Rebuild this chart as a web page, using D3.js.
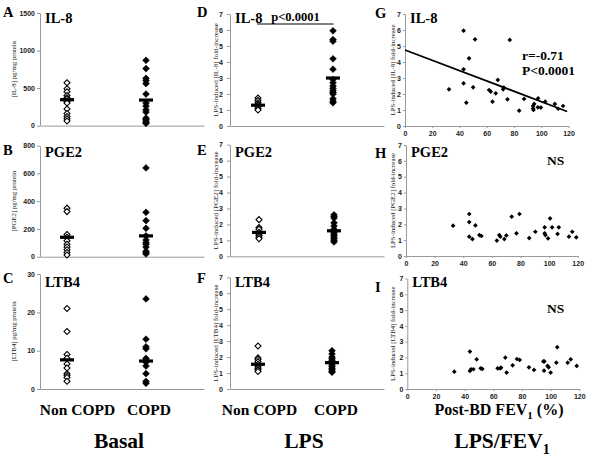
<!DOCTYPE html>
<html><head><meta charset="utf-8">
<script src="https://cdn.jsdelivr.net/npm/d3@7"></script>
<style>body{margin:0;background:#fff}svg{display:block}</style>
</head><body>
<svg id="c" width="600" height="459"></svg>
<script>
// ---------- DATA ----------
const groups = ["Non COPD", "COPD"];

// Basal (pg/mg protein)
const basalIL8NonCOPD = [570, 490, 450, 400, 370, 350, 320, 300, 220, 160, 120, 90, 60];
const basalIL8COPD = [870, 760, 630, 600, 560, 420, 300, 260, 210, 180, 100, 80, 60, 40, 30];
const basalIL8Medians = [345, 340];
const basalPGE2NonCOPD = [350, 325, 160, 140, 115, 90, 70, 50, 30, 12];
const basalPGE2COPD = [640, 320, 260, 205, 150, 120, 100, 90, 70, 40, 30, 20];
const basalPGE2Medians = [140, 150];
const basalLTB4NonCOPD = [21, 15, 9, 8, 6.5, 5.5, 4, 3.5, 3, 2];
const basalLTB4COPD = [23.5, 13, 11, 10.5, 8, 7.5, 7, 6, 4, 2, 1.5];
const basalLTB4Medians = [7.6, 7.3];

// LPS-induced fold increase
const lpsIL8NonCOPD = [1.75, 1.6, 1.45, 1.35, 1.3, 1.2, 1.1, 1.0];
const lpsIL8COPD = [5.95, 5.4, 5.3, 4.2, 3.55, 2.9, 2.7, 2.5, 2.35, 2.2, 2.1, 2.0, 1.7, 1.55, 1.45];
const lpsIL8Medians = [1.3, 3.0];
const lpsPGE2NonCOPD = [2.3, 1.8, 1.7, 1.5, 1.4, 1.3, 1.2, 1.1];
const lpsPGE2COPD = [2.6, 2.5, 2.4, 2.1, 1.9, 1.7, 1.6, 1.5, 1.4, 1.3, 1.2, 1.1, 1.0, 0.9];
const lpsPGE2Medians = [1.5, 1.6];
const lpsLTB4NonCOPD = [2.7, 1.95, 1.85, 1.7, 1.55, 1.4, 1.3, 1.2, 1.1];
const lpsLTB4COPD = [2.4, 2.2, 2.0, 1.9, 1.8, 1.6, 1.5, 1.4, 1.3, 1.2, 1.1, 1.05];
const lpsLTB4Medians = [1.55, 1.65];

// LPS fold increase vs post-BD FEV1 (%)
const fev1IL8 = [32.3, 43, 43, 43, 45, 47, 50, 51.4, 61.7, 62.9, 64.2, 66.6, 68.1, 72, 72.5, 75.2, 76.9, 83.8, 87.4, 94, 94, 94.3, 94.8, 97.7, 97.5, 99.7, 102.9, 110, 112.4, 116];
const foldIL8 = [2.29, 5.96, 3.54, 2.67, 1.46, 4.23, 2.42, 5.42, 2.25, 2.15, 1.52, 2.04, 2.88, 2.29, 2.4, 1.67, 5.38, 0.96, 1.69, 1.25, 1.1, 1.0, 1.38, 1.73, 1.17, 1.15, 1.52, 1.38, 1.08, 1.25];
const fitIL8 = {intercept: 4.75, slope: -0.0323};
const fev1PGE2 = [32.9, 44.2, 44.2, 44.2, 46.4, 48.5, 51.3, 52.7, 63.5, 65.2, 65.9, 68.7, 70.1, 73.9, 77.2, 79.3, 86.1, 90.4, 96.9, 96.9, 97.4, 99.3, 100.7, 102.1, 105.9, 106.8, 113.9, 116.2, 119];
const foldPGE2 = [1.91, 2.65, 2.14, 1.22, 1.07, 1.93, 1.32, 1.26, 0.97, 1.32, 1.22, 1.07, 1.30, 2.48, 1.43, 2.65, 1.13, 1.53, 1.81, 1.43, 1.32, 1.11, 2.37, 1.81, 1.39, 1.81, 1.22, 1.53, 1.18];
const fev1LTB4 = [32.8, 43.7, 43.7, 44.4, 46.1, 48.4, 51.2, 52.3, 63.0, 64.7, 65.4, 68.4, 69.3, 73.5, 76.5, 78.4, 84.9, 88.4, 94.9, 95.4, 95.6, 97.9, 98.6, 100, 104, 104.6, 111.9, 114, 118.2];
const foldLTB4 = [1.10, 2.37, 1.14, 1.25, 1.25, 1.88, 1.31, 1.27, 1.31, 1.31, 1.35, 1.99, 1.04, 1.50, 1.90, 1.84, 1.37, 1.21, 1.75, 1.16, 1.75, 1.46, 1.37, 1.04, 1.67, 2.65, 1.67, 1.88, 1.46];

const foldTicks = [0, 1, 2, 3, 4, 5, 6, 7];
const fev1Ticks = [0, 20, 40, 60, 80, 100, 120];
const il8BasalTicks = [0, 500, 1000, 1500];
const pge2BasalTicks = [0, 200, 400, 600, 800];
const ltb4BasalTicks = [0, 10, 20, 30];

// ---------- DRAW ----------
const svg = d3.select("#c");
const SERIF = "'Liberation Serif','Times New Roman',serif";
const SANS = "'Liberation Sans',Arial,sans-serif";
const AXC = "#9a9a9a";
const fmt = d3.format("d");

function styleAxis(g) {
  g.select(".domain").attr("stroke", AXC).attr("stroke-width", 1);
  g.selectAll(".tick line").attr("stroke", AXC);
  g.selectAll(".tick text").attr("fill", "#222").style("font-family", SANS)
    .style("font-size", "7px").style("font-weight", "bold");
}

function diamond(sel, size) {
  return sel.attr("d", d3.symbol(d3.symbolSquare, size)());
}

function text(x, y, s, size, opts = {}) {
  return svg.append("text").attr("x", x).attr("y", y).text(s)
    .style("font-family", SERIF).style("font-size", size + "px")
    .style("font-weight", opts.weight || "bold")
    .attr("text-anchor", opts.anchor || "start").attr("fill", "#000");
}

function rotLabel(x, yc, s, size) {
  svg.append("text").attr("transform", `translate(${x},${yc}) rotate(-90)`)
    .attr("text-anchor", "middle").text(s)
    .style("font-family", SERIF).style("font-size", size + "px").attr("fill", "#222");
}

function stripPanel(p) {
  const y = d3.scaleLinear().domain([0, p.ticks[p.ticks.length - 1]]).range([p.y0, p.y1]);
  const x = d3.scalePoint().domain(groups).range(p.cats);
  const xl = d3.scaleLinear().domain([0, 1]).range([p.ax, p.xEnd]);
  svg.append("g").attr("transform", `translate(0,${p.y0})`)
    .call(d3.axisBottom(xl).tickValues([]).tickSizeOuter(0)).call(styleAxis);
  svg.append("g").attr("transform", `translate(${p.ax},0)`)
    .call(d3.axisLeft(y).tickValues(p.ticks).tickFormat(fmt).tickSize(3).tickPadding(p.pad).tickSizeOuter(0))
    .call(styleAxis);
  const series = [p.non, p.copd];
  series.forEach((vals, i) => {
    svg.append("g").selectAll("path").data(vals).join("path")
      .call(diamond, i === 0 ? 18 : 23)
      .attr("transform", d => `translate(${x(groups[i])},${y(d)}) rotate(45)`)
      .attr("fill", i === 0 ? "#fff" : "#000")
      .attr("stroke", "#000").attr("stroke-width", i === 0 ? 1.1 : 0.6);
  });
  svg.append("g").selectAll("rect").data(p.med).join("rect")
    .attr("x", (d, i) => x(groups[i]) - 7).attr("width", 14)
    .attr("y", d => y(d) - 1.6).attr("height", 3.2).attr("fill", "#000");
  text(p.ax + 5, p.tb, p.title, 14.5);
  text(p.lx, p.lb, p.letter, 14.5);
  rotLabel(p.ylx, (p.y0 + p.y1) / 2, p.ylabel, p.yls);
  return {x, y};
}

function scatterPanel(p) {
  const x = d3.scaleLinear().domain([0, 120]).range([p.ax, p.xEnd]);
  const y = d3.scaleLinear().domain([0, 7]).range([p.y0, p.y1]);
  svg.append("g").attr("transform", `translate(0,${p.y0})`)
    .call(d3.axisBottom(x).tickValues(fev1Ticks).tickFormat(fmt).tickSize(2).tickPadding(3).tickSizeOuter(0))
    .call(styleAxis);
  svg.append("g").attr("transform", `translate(${p.ax},0)`)
    .call(d3.axisLeft(y).tickValues(foldTicks).tickFormat(fmt).tickSize(2).tickPadding(2).tickSizeOuter(0))
    .call(styleAxis);
  svg.append("g").selectAll("path").data(p.xs).join("path")
    .call(diamond, 11)
    .attr("transform", (d, i) => `translate(${x(d)},${y(p.ys[i])}) rotate(45)`)
    .attr("fill", "#000");
  if (p.fit) {
    svg.append("line")
      .attr("x1", x(0)).attr("y1", y(p.fit.intercept))
      .attr("x2", x(119)).attr("y2", y(p.fit.intercept + p.fit.slope * 119))
      .attr("stroke", "#000").attr("stroke-width", 1.8);
  }
  text(p.ax + 5, p.tb, p.title, 14.5);
  text(375, p.lb, p.letter, 14.5);
  rotLabel(395, (p.y0 + p.y1) / 2, p.ylabel, 6.8);
  return {x, y};
}

// Column 1 : Basal
stripPanel({ax: 40, xEnd: 204, cats: [67, 146], y0: 125.6, y1: 13, ticks: il8BasalTicks, pad: 2,
  non: basalIL8NonCOPD, copd: basalIL8COPD, med: basalIL8Medians, title: "IL-8", tb: 23, letter: "A", lx: 3, lb: 17,
  ylabel: "[IL-8] pg/mg protein", ylx: 15.5, yls: 6.8});
stripPanel({ax: 40, xEnd: 204, cats: [67, 146], y0: 256.7, y1: 145.7, ticks: pge2BasalTicks, pad: 2,
  non: basalPGE2NonCOPD, copd: basalPGE2COPD, med: basalPGE2Medians, title: "PGE2", tb: 156.5, letter: "B", lx: 3, lb: 155,
  ylabel: "[PGE2] pg/mg protein", ylx: 15.5, yls: 6.8});
stripPanel({ax: 40, xEnd: 204, cats: [67, 146], y0: 389, y1: 274, ticks: ltb4BasalTicks, pad: 2,
  non: basalLTB4NonCOPD, copd: basalLTB4COPD, med: basalLTB4Medians, title: "LTB4", tb: 287, letter: "C", lx: 3, lb: 283,
  ylabel: "[LTB4] pg/mg protein", ylx: 15.5, yls: 6.8});

// Column 2 : LPS
const D = stripPanel({ax: 230, xEnd: 384, cats: [258, 333], y0: 126, y1: 14, ticks: foldTicks, pad: 4,
  non: lpsIL8NonCOPD, copd: lpsIL8COPD, med: lpsIL8Medians, title: "IL-8", tb: 23, letter: "D", lx: 197, lb: 17,
  ylabel: "LPS-induced [IL-8] fold-increase", ylx: 217.5, yls: 7});
stripPanel({ax: 230, xEnd: 384, cats: [259, 334], y0: 256.3, y1: 144.7, ticks: foldTicks, pad: 4,
  non: lpsPGE2NonCOPD, copd: lpsPGE2COPD, med: lpsPGE2Medians, title: "PGE2", tb: 156.5, letter: "E", lx: 197, lb: 155,
  ylabel: "LPS-induced [PGE2] fold-increase", ylx: 217.5, yls: 7});
stripPanel({ax: 230, xEnd: 384, cats: [258, 332], y0: 389, y1: 277.3, ticks: foldTicks, pad: 4,
  non: lpsLTB4NonCOPD, copd: lpsLTB4COPD, med: lpsLTB4Medians, title: "LTB4", tb: 287, letter: "F", lx: 197, lb: 283,
  ylabel: "LPS-induced [LTB4] fold-increase", ylx: 217.5, yls: 7});

// significance bar in D
svg.append("line").attr("x1", D.x("Non COPD") - 1).attr("x2", D.x("COPD") + 0.5)
  .attr("y1", 24).attr("y2", 24).attr("stroke", "#000").attr("stroke-width", 1.2);
text(295.5, 21, "p<0.0001", 12.5, {anchor: "middle"});

// Column 3 : LPS vs FEV1
scatterPanel({ax: 405, xEnd: 568.5, y0: 126, y1: 14, xs: fev1IL8, ys: foldIL8, fit: fitIL8,
  title: "IL-8", tb: 23, letter: "G", lb: 18, ylabel: "LPS-induced [IL-8] fold-increase"});
scatterPanel({ax: 406, xEnd: 577.7, y0: 256, y1: 145, xs: fev1PGE2, ys: foldPGE2,
  title: "PGE2", tb: 156.5, letter: "H", lb: 158, ylabel: "LPS-induced [PGE2] fold-increase"});
scatterPanel({ax: 407.3, xEnd: 579.3, y0: 389, y1: 278.5, xs: fev1LTB4, ys: foldLTB4,
  title: "LTB4", tb: 287, letter: "I", lb: 292, ylabel: "LPS-induced [LTB4] fold-increase"});

text(522, 60, "r=-0.71", 13.5);
text(522, 75, "P<0.0001", 13.5);
text(547, 165, "NS", 13.5);
text(547, 313, "NS", 13.5);

// group labels
[[77.5, 149], [259.5, 336]].forEach(pos => {
  text(pos[0], 415, "Non COPD", 15.5, {anchor: "middle"});
  text(pos[1], 415, "COPD", 15.5, {anchor: "middle"});
});
const xl = text(499, 415, "Post-BD FEV", 16, {anchor: "middle"});
xl.append("tspan").attr("dy", 4).style("font-size", "11px").text("1");
xl.append("tspan").attr("dy", -4).text(" (%)");

text(119, 448, "Basal", 21.5, {anchor: "middle"});
text(304, 448, "LPS", 21.5, {anchor: "middle"});
const lf = text(502, 448, "LPS/FEV", 21.5, {anchor: "middle"});
lf.append("tspan").attr("dy", 6).style("font-size", "14px").text("1");
</script>
</body></html>
